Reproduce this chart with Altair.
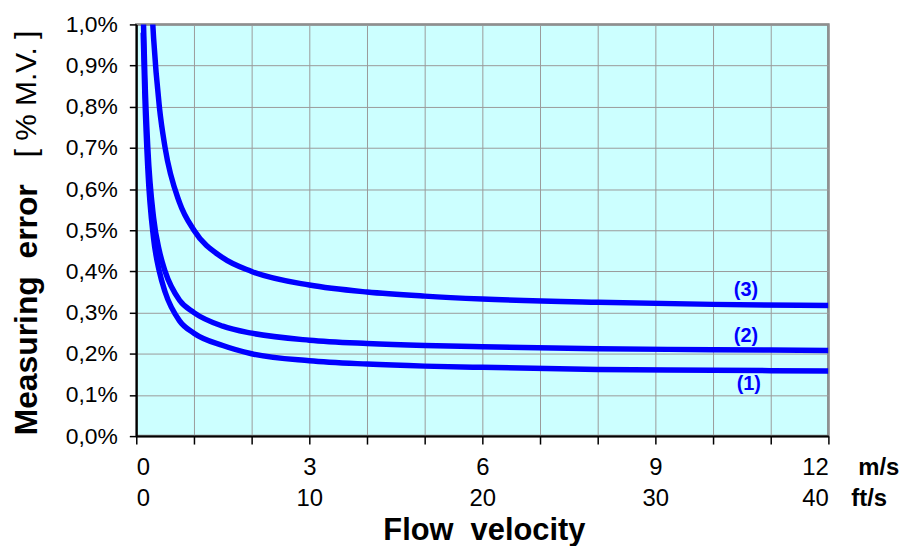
import altair as alt
import pandas as pd

# velocities (m/s) and read-off measuring error (% of measured value)
v12 = [0.12, 0.15, 0.2, 0.3, 0.4, 0.5, 0.75, 1, 1.5, 2, 3, 4, 5, 6, 8, 10, 12]
err1 = [0.98, 0.82, 0.65, 0.48, 0.40, 0.35, 0.28, 0.25, 0.22, 0.20, 0.183, 0.175, 0.17, 0.167, 0.162, 0.16, 0.158]
err2 = [1.03, 0.87, 0.70, 0.53, 0.45, 0.40, 0.33, 0.30, 0.267, 0.25, 0.233, 0.225, 0.22, 0.217, 0.212, 0.21, 0.208]
v3 = [0.27, 0.3, 0.4, 0.5, 0.75, 1, 1.5, 2, 3, 4, 5, 6, 8, 10, 12]
err3 = [1.04, 0.967, 0.80, 0.70, 0.567, 0.50, 0.433, 0.40, 0.367, 0.35, 0.34, 0.333, 0.325, 0.32, 0.317]

curve_names = ["(1)", "(2)", "(3)"]
label_x = [10.62, 10.57, 10.57]
label_y = [0.126, 0.242, 0.356]

ms_ticks = list(range(0, 13))
fts_ticks = [0, 10, 20, 30, 40]
y_ticks = [round(i * 0.1, 1) for i in range(11)]

rows = []
for v, e in zip(v12, err1):
    rows.append({"v": v, "err": e, "curve": "(1)"})
for v, e in zip(v12, err2):
    rows.append({"v": v, "err": e, "curve": "(2)"})
for v, e in zip(v3, err3):
    rows.append({"v": v, "err": e, "curve": "(3)"})
df = pd.DataFrame(rows)
lab_df = pd.DataFrame({"v": label_x, "err": label_y, "curve": curve_names})
fts_df = pd.DataFrame({"fts": fts_ticks})

FONT = "Liberation Sans"
BLUE = "#0000FF"
NB = "\u00a0"

xscale = alt.Scale(domain=[0, 12], nice=False, zero=True)
yscale = alt.Scale(domain=[0, 1], nice=False)

x_axis = alt.Axis(
    values=ms_ticks, title=None, grid=True, gridColor="#9a9a9a", gridWidth=1,
    domainColor="black", domainWidth=2, tickColor="black", tickWidth=1.5, tickSize=8,
    labelExpr="datum.value % 3 == 0 ? datum.label : ''", labelFlush=True,
    labelFont=FONT, labelFontSize=24, labelColor="black", labelPadding=31,
    labelBaseline="alphabetic",
)
y_axis = alt.Axis(
    values=y_ticks, title=None, grid=True, gridColor="#9a9a9a", gridWidth=1,
    domainColor="black", domainWidth=2, tickColor="black", tickWidth=1.5, tickSize=7,
    labelExpr="replace(format(datum.value, '.1f'), '.', ',') + '%'",
    labelFont=FONT, labelFontSize=23, labelColor="black", labelPadding=12,
)

lines = alt.Chart(df).mark_line(interpolate="monotone", strokeWidth=5.5, color=BLUE, clip=True).encode(
    x=alt.X("v:Q", scale=xscale, axis=x_axis),
    y=alt.Y("err:Q", scale=yscale, axis=y_axis),
    detail="curve:N",
)

labels = alt.Chart(lab_df).mark_text(
    font=FONT, fontSize=20, fontWeight="bold", color=BLUE, align="center", baseline="middle"
).encode(x=alt.X("v:Q", scale=xscale, axis=None), y=alt.Y("err:Q", scale=yscale), text="curve:N")

fts_axis = alt.Chart(fts_df).mark_point(opacity=0).encode(
    x=alt.X("fts:Q", scale=alt.Scale(domain=[0, 40], nice=False),
            axis=alt.Axis(orient="bottom", values=fts_ticks, title=None, grid=False, domain=False,
                          ticks=False, tickSize=0, labelFlush=True, labelFont=FONT, labelFontSize=24,
                          labelColor="black", labelPadding=70, labelBaseline="alphabetic")),
    y=alt.value(0),
)

def txt(text, x, y, size, weight="normal", align="left", angle=0):
    return alt.Chart(pd.DataFrame({"t": [text]})).mark_text(
        font=FONT, fontSize=size, fontWeight=weight, color="black", align=align,
        baseline="alphabetic", angle=angle,
    ).encode(text="t:N", x=alt.value(x), y=alt.value(y))

units_ms = txt("m/s", 726, 453, 24, "bold")
units_fts = txt("ft/s", 719, 484, 24, "bold")
xtitle = txt("Flow" + NB + NB + "velocity", 350, 518, 31, "bold", "center")
ytitle1 = txt("Measuring" + NB + NB + "error", -100, 287, 32, "bold", "center", 270)
ytitle2 = txt("[" + NB + "%" + NB + "M.V." + NB + "]", -101, 70, 30, "normal", "center", 270)

chart = alt.layer(
    lines, labels, units_ms, units_fts, xtitle, ytitle1, ytitle2, fts_axis
).resolve_scale(x="independent").properties(
    width=696, height=414,
    autosize=alt.AutoSizeParams(type="none"),
    padding={"left": 129, "top": 15, "right": 72, "bottom": 109},
).configure_view(fill="#CCFFFF", stroke="#808080", strokeWidth=2.5)

chart.save("out.html", embed_options={"renderer": "svg", "actions": False})
